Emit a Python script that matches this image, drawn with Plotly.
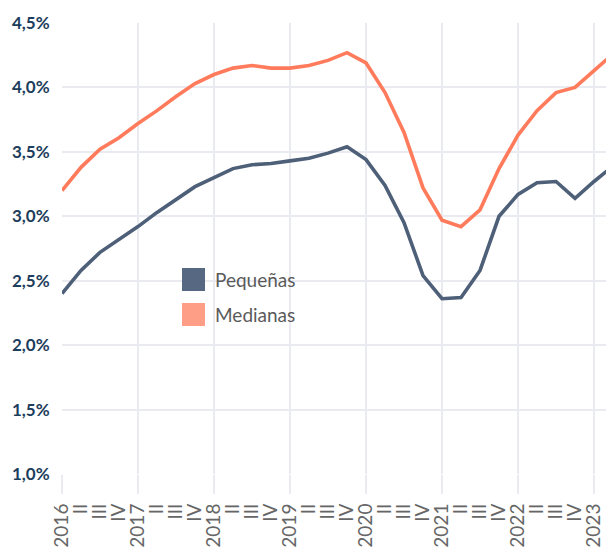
import plotly.graph_objects as go

quarter_labels = ["2016", "II", "III", "IV", "2017", "II", "III", "IV",
                  "2018", "II", "III", "IV", "2019", "II", "III", "IV",
                  "2020", "II", "III", "IV", "2021", "II", "III", "IV",
                  "2022", "II", "III", "IV", "2023", "II"]
pequenas = [2.40, 2.58, 2.72, 2.82, 2.92, 3.03, 3.13, 3.23, 3.30, 3.37,
            3.40, 3.41, 3.43, 3.45, 3.49, 3.54, 3.44, 3.24, 2.95, 2.54,
            2.36, 2.37, 2.58, 3.00, 3.17, 3.26, 3.27, 3.14, 3.27, 3.39]
medianas = [3.20, 3.38, 3.52, 3.61, 3.72, 3.82, 3.93, 4.03, 4.10, 4.15,
            4.17, 4.15, 4.15, 4.17, 4.21, 4.27, 4.19, 3.96, 3.65, 3.22,
            2.97, 2.92, 3.05, 3.37, 3.63, 3.82, 3.96, 4.00, 4.13, 4.26]
series_names = ["Pequeñas", "Medianas"]
y_ticks = [1.0, 1.5, 2.0, 2.5, 3.0, 3.5, 4.0, 4.5]
y_tick_labels = [f"{v:.1f}".replace(".", ",") + "%" for v in y_ticks]

idx = list(range(len(quarter_labels)))
year_idx = [i for i, t in enumerate(quarter_labels) if t.isdigit()]

LINE_BLUE = "#4E5F78"
LINE_ORANGE = "#FF7B5C"
LEG_BLUE = "#566882"
LEG_ORANGE = "#FF9E86"
GRID = "#EAEAF1"

fig = go.Figure()
fig.add_trace(go.Scatter(x=idx, y=pequenas, mode="lines", name=series_names[0],
                         line=dict(color=LINE_BLUE, width=3.6), showlegend=False,
                         xaxis="x", hoverinfo="skip"))
fig.add_trace(go.Scatter(x=idx, y=medianas, mode="lines", name=series_names[1],
                         line=dict(color=LINE_ORANGE, width=3.6), showlegend=False,
                         xaxis="x2", hoverinfo="skip"))

xr = [0, 28.63]
fig.update_layout(
    width=606, height=547,
    margin=dict(l=62, r=0, t=23, b=73),
    paper_bgcolor="white", plot_bgcolor="white",
    showlegend=False,
    xaxis=dict(range=xr, tickmode="array", tickvals=year_idx,
               ticktext=["" for _ in year_idx],
               showgrid=True, gridcolor=GRID, gridwidth=2,
               ticks="outside", ticklen=19, tickcolor=GRID, tickwidth=2,
               zeroline=False, showline=False, fixedrange=True),
    xaxis2=dict(range=xr, overlaying="x", side="bottom", matches="x",
                tickmode="array", tickvals=idx, ticktext=quarter_labels,
                tickangle=-90, showgrid=False, zeroline=False, showline=False,
                ticks="outside", ticklen=21, tickcolor="rgba(0,0,0,0)",
                tickfont=dict(family="Lato", size=19, color="#666666")),
    yaxis=dict(range=[1.0, 4.5], tickmode="array", tickvals=y_ticks,
               ticktext=y_tick_labels,
               showgrid=True, gridcolor=GRID, gridwidth=2,
               zeroline=False, showline=False,
               ticks="outside", ticklen=8, tickcolor="rgba(0,0,0,0)",
               tickfont=dict(family="Lato", size=17, color="#1D3D5C", weight=700)),
)

def px_x(p):
    return (p - 62) / 544.0

def px_y(p):
    return (474 - p) / 451.0

# legend background
fig.add_shape(type="rect", xref="paper", yref="paper",
              x0=px_x(172), x1=px_x(336), y0=px_y(332), y1=px_y(262),
              fillcolor="white", line=dict(width=0), layer="between")
legend_items = [(series_names[0], LEG_BLUE, 268), (series_names[1], LEG_ORANGE, 303)]
for name, col, top in legend_items:
    fig.add_shape(type="rect", xref="paper", yref="paper",
                  x0=px_x(182), x1=px_x(205), y0=px_y(top + 23), y1=px_y(top),
                  fillcolor=col, line=dict(width=0), layer="above")
    fig.add_annotation(xref="paper", yref="paper", x=px_x(213), y=px_y(top + 11.5),
                       text=name, showarrow=False, xanchor="left", yanchor="middle",
                       font=dict(family="Lato", size=19, color="#5A5A5A"))

fig.write_html("out.html", config={"displayModeBar": False})
